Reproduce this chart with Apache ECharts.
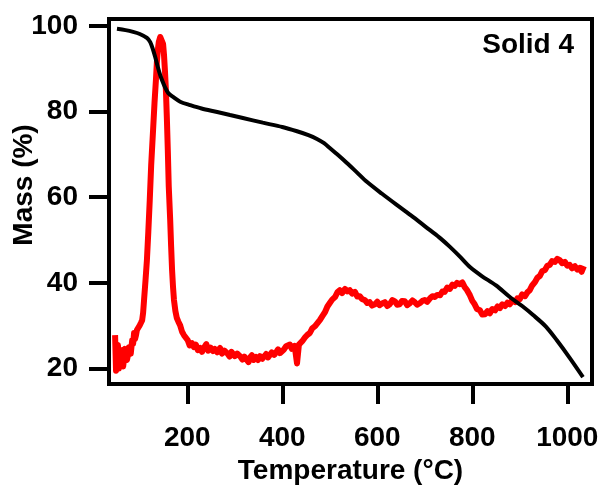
<!DOCTYPE html>
<html>
<head>
<meta charset="utf-8">
<script src="https://cdn.jsdelivr.net/npm/echarts@6/dist/echarts.min.js"></script>
<style>
  html, body { margin: 0; padding: 0; background: #fff; }
  #chart { width: 603px; height: 491px; }
</style>
</head>
<body>
<div id="chart"></div>
<script>
// Thermogravimetric curve: temperature (°C) and remaining mass (%)
const massTemp = [52, 70, 86, 100, 115, 122, 128, 133, 138, 143, 148, 153, 160, 170, 185, 206, 230, 263, 290, 317, 359, 400, 431, 455, 473, 488, 500, 518, 536, 557, 578, 610, 641, 675, 711, 733, 753, 775, 795, 820, 850, 879, 905, 928, 955, 978, 1005, 1033];
const massVals = [99.3, 99.0, 98.6, 98.1, 97.2, 96.2, 94.4, 92.5, 90.4, 88.5, 87.0, 85.7, 84.3, 83.4, 82.3, 81.5, 80.7, 79.9, 79.2, 78.5, 77.4, 76.4, 75.4, 74.5, 73.6, 72.6, 71.5, 69.8, 68.0, 65.8, 63.6, 60.8, 58.2, 55.4, 52.3, 50.4, 48.4, 46.0, 43.7, 41.6, 39.4, 36.7, 34.6, 32.5, 29.8, 26.6, 22.5, 18.0];

// Derivative signal plotted on the same scale
const sigTemp = [48, 50, 52, 54, 56, 58, 60, 63, 65, 67, 69, 71, 73, 75, 77, 79, 81, 84, 86, 88, 90, 92, 94, 96, 98, 100, 103, 105, 107, 109, 112, 115, 118, 121, 124, 128, 131, 134, 136, 138, 140, 143, 145, 147, 149, 151, 153, 155, 157, 159, 161, 164, 166, 168, 170, 172, 175, 178, 181, 185, 189, 193, 197, 201, 205, 210, 214, 218, 222, 227, 231, 236, 240, 244, 249, 254, 258, 263, 269, 273, 278, 284, 289, 293, 296, 300, 305, 311, 316, 320, 324, 329, 332, 336, 340, 345, 349, 353, 358, 362, 366, 370, 374, 378, 383, 387, 391, 395, 399, 403, 408, 412, 416, 420, 423, 426, 429, 431, 433, 435, 437, 442, 448, 453, 458, 463, 469, 474, 479, 484, 490, 495, 500, 505, 511, 516, 521, 526, 532, 537, 542, 547, 553, 558, 563, 568, 574, 579, 584, 589, 595, 600, 605, 610, 616, 621, 626, 632, 637, 642, 647, 652, 658, 663, 669, 674, 679, 684, 690, 695, 700, 705, 711, 716, 721, 726, 732, 737, 742, 747, 753, 758, 763, 768, 774, 779, 784, 789, 795, 800, 805, 810, 816, 821, 827, 832, 837, 842, 848, 853, 858, 863, 869, 874, 879, 884, 890, 895, 900, 905, 911, 916, 921, 926, 932, 937, 942, 947, 953, 958, 963, 968, 974, 979, 984, 989, 995, 1000, 1005, 1010, 1016, 1021, 1026, 1030, 1035];
const sigVals = [27.8, 19.5, 24.0, 25.5, 20.0, 19.6, 23.8, 24.3, 20.5, 22.4, 24.6, 24.8, 22.0, 23.1, 25.0, 25.2, 23.5, 26.6, 25.8, 28.3, 26.9, 27.8, 29.0, 29.4, 28.6, 30.1, 30.8, 31.3, 33.0, 36.0, 40.5, 45.3, 52.0, 59.3, 67.5, 75.7, 82.0, 87.4, 91.5, 94.4, 96.2, 97.4, 97.8, 97.4, 95.8, 93.2, 89.5, 85.0, 78.5, 71.0, 62.5, 54.7, 48.5, 43.0, 39.0, 36.0, 33.4, 31.8, 31.0, 30.1, 28.6, 27.8, 27.2, 26.6, 25.4, 25.9, 25.0, 25.6, 24.3, 24.8, 23.9, 25.0, 25.7, 24.2, 24.9, 24.1, 24.6, 23.8, 24.8, 23.5, 24.2, 23.6, 22.8, 23.9, 24.3, 22.9, 23.5, 22.9, 22.1, 22.8, 22.4, 21.5, 22.6, 23.1, 22.0, 22.7, 22.0, 22.9, 22.3, 22.7, 23.4, 22.6, 22.9, 23.8, 23.2, 23.8, 24.5, 23.6, 23.4, 24.4, 25.2, 24.8, 25.6, 24.6, 24.3, 25.3, 25.5, 21.2, 21.5, 25.6, 25.9, 26.4, 27.3, 27.9, 28.3, 29.4, 29.9, 30.6, 31.3, 32.2, 33.2, 34.5, 35.3, 36.1, 36.7, 37.8, 38.3, 37.6, 38.6, 38.0, 38.3, 37.5, 37.9, 36.8, 36.9, 36.2, 36.0, 35.3, 35.5, 34.7, 35.0, 35.6, 34.8, 35.2, 35.5, 34.6, 35.0, 36.0, 35.7, 34.9, 35.0, 35.8, 35.7, 34.8, 35.3, 35.9, 35.5, 34.9, 35.3, 35.8, 36.0, 35.6, 36.4, 36.9, 36.7, 37.2, 37.1, 38.0, 37.9, 38.9, 38.6, 39.6, 39.3, 40.0, 39.7, 40.1, 39.0, 38.3, 37.1, 35.8, 35.0, 33.9, 33.6, 32.6, 32.7, 33.4, 32.9, 33.9, 33.6, 34.5, 34.1, 35.0, 34.6, 35.4, 35.0, 36.0, 35.5, 36.4, 36.2, 37.3, 36.9, 37.8, 38.3, 39.4, 40.2, 41.2, 41.6, 42.7, 43.0, 44.0, 44.2, 45.1, 44.9, 45.6, 45.3, 44.6, 44.9, 44.0, 44.2, 43.4, 43.9, 43.1, 43.5, 42.6, 43.9];

const xTicks = [200, 400, 600, 800, 1000];
const yTicks = [20, 40, 60, 80, 100];
const sampleLabel = 'Solid 4';
const yTitle = 'Mass (%)';

const FONT = '"Liberation Sans", Arial, sans-serif';
const pairs = (xs, ys) => xs.map((x, i) => [x, ys[i]]);
const plain = v => String(v);

const chart = echarts.init(document.getElementById('chart'), null, { renderer: 'canvas' });

chart.setOption({
  animation: false,
  backgroundColor: '#fff',
  grid: {
    left: 109, right: 11, top: 19, bottom: 107,
    containLabel: false,
    outerBoundsMode: 'none',
    show: true, borderColor: '#000', borderWidth: 4, backgroundColor: 'transparent'
  },
  xAxis: {
    type: 'value',
    min: 35.2, max: 1052,
    name: 'Temperature (°C)',
    nameLocation: 'middle',
    nameGap: 72,
    nameTextStyle: { fontFamily: FONT, fontWeight: 'bold', fontSize: 28, color: '#000' },
    axisLine: { show: true, lineStyle: { color: '#000', width: 4 } },
    axisTick: { show: true, inside: false, length: 20, lineStyle: { color: '#000', width: 4 }, customValues: xTicks },
    axisLabel: { customValues: xTicks, formatter: plain, margin: 40, fontFamily: FONT, fontWeight: 'bold', fontSize: 28, color: '#000' },
    splitLine: { show: false }
  },
  yAxis: {
    type: 'value',
    min: 16.4, max: 101.6,
    axisLine: { show: true, lineStyle: { color: '#000', width: 4 } },
    axisTick: { show: true, inside: false, length: 20, lineStyle: { color: '#000', width: 4 }, customValues: yTicks },
    axisLabel: { customValues: yTicks, formatter: plain, margin: 31, fontFamily: FONT, fontWeight: 'bold', fontSize: 28, color: '#000' },
    splitLine: { show: false }
  },
  graphic: [
    {
      type: 'text',
      right: 29, top: 31,
      style: { text: sampleLabel, font: 'bold 28px ' + FONT, fill: '#000' }
    },
    {
      type: 'text',
      x: 24, y: 185,
      rotation: Math.PI / 2,
      style: { text: yTitle, font: 'bold 28px ' + FONT, fill: '#000', align: 'center', verticalAlign: 'middle' }
    }
  ],
  series: [
    {
      type: 'line',
      data: pairs(sigTemp, sigVals),
      showSymbol: false,
      lineStyle: { color: '#ff0000', width: 6, join: 'round' },
      z: 2
    },
    {
      type: 'line',
      data: pairs(massTemp, massVals),
      showSymbol: false,
      smooth: 0.3,
      lineStyle: { color: '#000', width: 4 },
      z: 3
    }
  ]
});
</script>
</body>
</html>
